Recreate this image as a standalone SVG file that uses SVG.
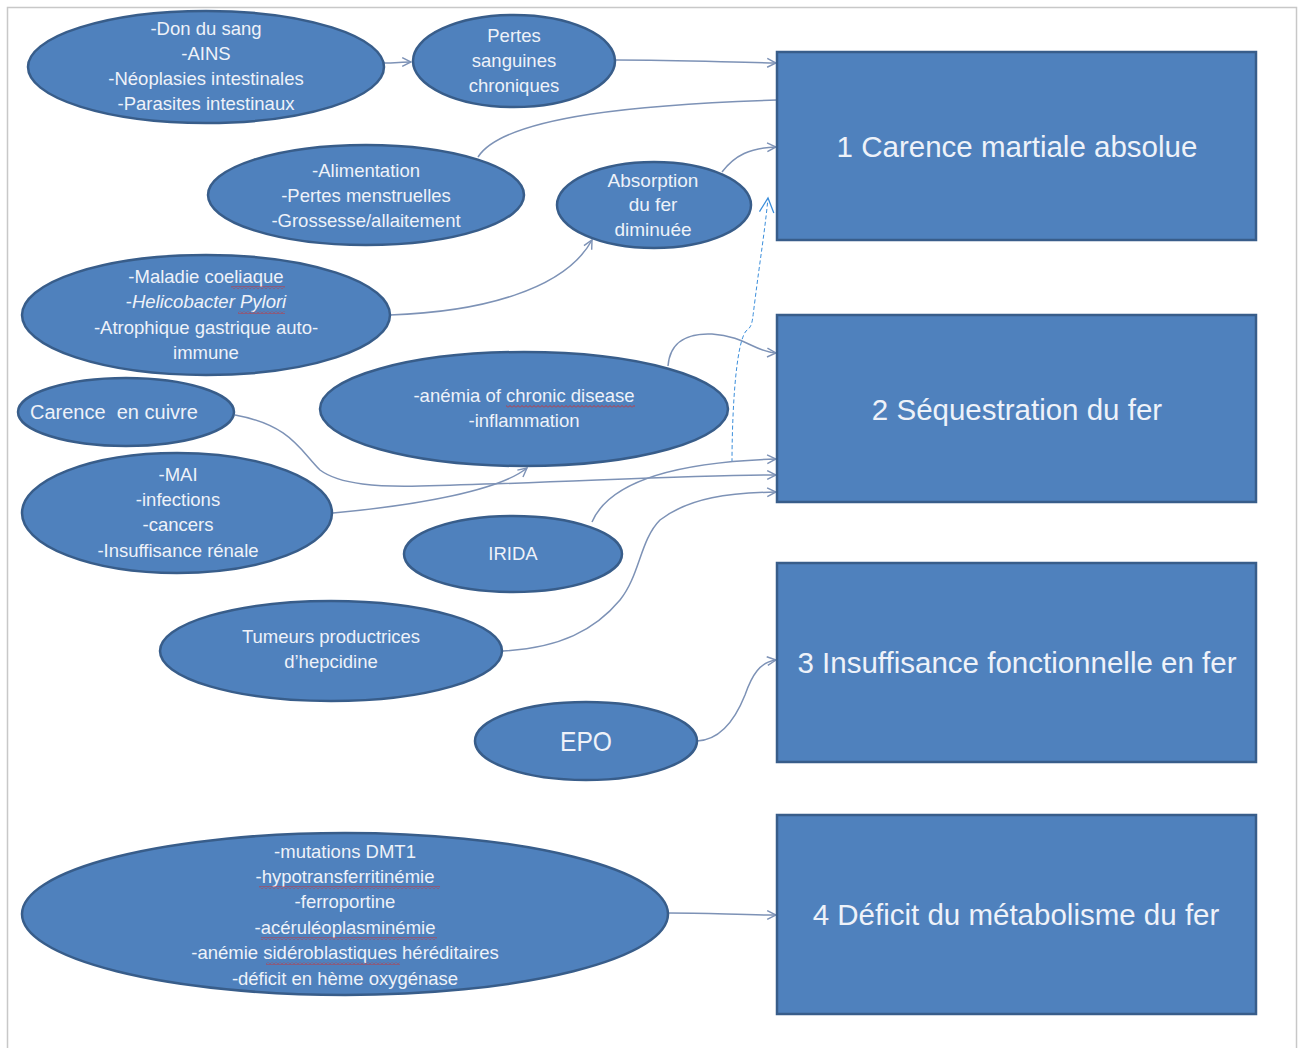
<svg xmlns="http://www.w3.org/2000/svg" width="1298" height="1048" viewBox="0 0 1298 1048">
<defs>
<marker id="arr" viewBox="0 0 10 10" refX="9" refY="5" markerWidth="11" markerHeight="11" markerUnits="userSpaceOnUse" orient="auto">
<path d="M1,1 L9,5 L1,9" fill="none" stroke="#7D92B6" stroke-width="1.3"/>
</marker>
<marker id="arrB" viewBox="0 0 10 10" refX="9" refY="5" markerWidth="18" markerHeight="18" markerUnits="userSpaceOnUse" orient="auto">
<path d="M1,1 L9,5 L1,9" fill="none" stroke="#3B8EDB" stroke-width="0.7"/>
</marker>
<pattern id="wave" patternUnits="userSpaceOnUse" width="4" height="3">
<path d="M0,2.5 L2,0.5 L4,2.5" fill="none" stroke="#D03030" stroke-width="0.9"/>
</pattern>
</defs>
<style>
.ell{fill:#4F81BD;stroke:#385D8A;stroke-width:2.5}
.box{fill:#4F81BD;stroke:#385D8A;stroke-width:2.5}
.t{font-family:"Liberation Sans",Arial,sans-serif;font-size:18.5px;fill:#EEF2F9;text-anchor:middle}
.bt{font-family:"Liberation Sans",Arial,sans-serif;font-size:29.5px;fill:#EEF2F9;text-anchor:middle}
.c{fill:none;stroke:#7D92B6;stroke-width:1.5}
.d{fill:none;stroke:#3B8EDB;stroke-width:1;stroke-dasharray:4 2.5}
.sq{fill:url(#wave)}
</style>
<rect x="7.5" y="7.5" width="1289" height="1045" fill="#FFFFFF" stroke="#C8C8C8" stroke-width="1.5"/>

<g id="connectors">
<path class="c" d="M384,63 C395,63 402,62 411,62" marker-end="url(#arr)"/>
<path class="c" d="M616,60 C680,60 720,62 776,63" marker-end="url(#arr)"/>
<path class="c" d="M478,157 C505,115 650,104 777,100"/>
<path class="c" d="M722,172 C735,155 750,148 776,147" marker-end="url(#arr)"/>
<path class="c" d="M390,315 C480,312 565,290 592,240" marker-end="url(#arr)"/>
<path class="c" d="M668,366 C670,340 690,333 712,334 C745,336 755,352 776,353" marker-end="url(#arr)"/>
<path class="d" d="M732,462 C732,420 735,345 746,331 C753,326 752,322 755,300 C760,260 765,230 768,198" marker-end="url(#arrB)"/>
<path class="c" d="M235,415 C290,425 300,450 320,470 C340,485 380,487 420,486 C560,483 680,475 776,475" marker-end="url(#arr)"/>
<path class="c" d="M333,513 C420,505 500,490 527,468" marker-end="url(#arr)"/>
<path class="c" d="M592,522 C610,480 680,462 776,459" marker-end="url(#arr)"/>
<path class="c" d="M503,651 C560,648 595,630 620,600 C640,575 640,540 660,520 C690,497 730,493 776,492" marker-end="url(#arr)"/>
<path class="c" d="M697,741 C720,740 735,720 745,695 C752,675 760,662 776,660" marker-end="url(#arr)"/>
<path class="c" d="M668,913 C710,913 740,915 776,915" marker-end="url(#arr)"/>
</g>

<g id="n-don">
<ellipse class="ell" cx="206" cy="67" rx="178" ry="56"/>
<text class="t" x="206" y="35">-Don du sang</text>
<text class="t" x="206" y="60">-AINS</text>
<text class="t" x="206" y="85">-Néoplasies intestinales</text>
<text class="t" x="206" y="110">-Parasites intestinaux</text>
</g>
<g id="n-pertes">
<ellipse class="ell" cx="514" cy="61" rx="101" ry="46"/>
<text class="t" x="514" y="42">Pertes</text>
<text class="t" x="514" y="67">sanguines</text>
<text class="t" x="514" y="92">chroniques</text>
</g>
<g id="n-alim">
<ellipse class="ell" cx="366" cy="195" rx="158" ry="50"/>
<text class="t" x="366" y="177">-Alimentation</text>
<text class="t" x="366" y="202">-Pertes menstruelles</text>
<text class="t" x="366" y="227">-Grossesse/allaitement</text>
</g>
<g id="n-absorption">
<ellipse class="ell" cx="654" cy="205" rx="97" ry="43"/>
<text class="t" x="653" y="187" style="font-size:19px">Absorption</text>
<text class="t" x="653" y="211" style="font-size:19px">du fer</text>
<text class="t" x="653" y="236" style="font-size:19px">diminuée</text>
</g>
<g id="n-maladie">
<ellipse class="ell" cx="206" cy="315" rx="184" ry="60"/>
<text class="t" x="206" y="283">-Maladie coeliaque</text>
<text class="t" x="206" y="308">-<tspan font-style="italic">Helicobacter Pylori</tspan></text>
<text class="t" x="206" y="334">-Atrophique gastrique auto-</text>
<text class="t" x="206" y="359">immune</text>
<rect class="sq" x="231" y="286" width="54" height="3"/>
<rect class="sq" x="238" y="311" width="47" height="3"/>
</g>
<g id="n-cuivre">
<ellipse class="ell" cx="126" cy="412" rx="108" ry="34"/>
<text class="t" x="30" y="419" style="text-anchor:start;font-size:20px" xml:space="preserve">Carence  en cuivre</text>
</g>
<g id="n-anemia">
<ellipse class="ell" cx="524" cy="409" rx="204" ry="57"/>
<text class="t" x="524" y="402">-anémia of chronic disease</text>
<text class="t" x="524" y="427">-inflammation</text>
<rect class="sq" x="506" y="405" width="129" height="3"/>
</g>
<g id="n-mai">
<ellipse class="ell" cx="177" cy="513" rx="155" ry="60"/>
<text class="t" x="178" y="481">-MAI</text>
<text class="t" x="178" y="506">-infections</text>
<text class="t" x="178" y="531">-cancers</text>
<text class="t" x="178" y="557">-Insuffisance rénale</text>
</g>
<g id="n-irida">
<ellipse class="ell" cx="513" cy="554" rx="109" ry="38"/>
<text class="t" x="513" y="560">IRIDA</text>
</g>
<g id="n-tumeurs">
<ellipse class="ell" cx="331" cy="651" rx="171" ry="50"/>
<text class="t" x="331" y="643">Tumeurs productrices</text>
<text class="t" x="331" y="668">d’hepcidine</text>
</g>
<g id="n-epo">
<ellipse class="ell" cx="586" cy="741" rx="111" ry="39"/>
<text class="t" x="586" y="751" style="font-size:28px" textLength="52" lengthAdjust="spacingAndGlyphs">EPO</text>
</g>
<g id="n-mutations">
<ellipse class="ell" cx="345" cy="914" rx="323" ry="81"/>
<text class="t" x="345" y="858">-mutations DMT1</text>
<text class="t" x="345" y="883">-hypotransferritinémie</text>
<text class="t" x="345" y="908">-ferroportine</text>
<text class="t" x="345" y="934">-acéruléoplasminémie</text>
<text class="t" x="345" y="959">-anémie sidéroblastiques héréditaires</text>
<text class="t" x="345" y="985">-déficit en hème oxygénase</text>
<rect class="sq" x="259" y="886" width="181" height="3"/>
<rect class="sq" x="261" y="937" width="176" height="3"/>
<rect class="sq" x="266" y="962" width="134" height="3"/>
</g>

<g id="b1">
<rect class="box" x="777" y="52" width="479" height="188"/>
<text class="bt" x="1017" y="157">1 Carence martiale absolue</text>
</g>
<g id="b2">
<rect class="box" x="777" y="315" width="479" height="187"/>
<text class="bt" x="1017" y="420">2 Séquestration du fer</text>
</g>
<g id="b3">
<rect class="box" x="777" y="563" width="479" height="199"/>
<text class="bt" x="1017" y="673">3 Insuffisance fonctionnelle en fer</text>
</g>
<g id="b4">
<rect class="box" x="777" y="815" width="479" height="199"/>
<text class="bt" x="1016" y="925">4 Déficit du métabolisme du fer</text>
</g>
</svg>
